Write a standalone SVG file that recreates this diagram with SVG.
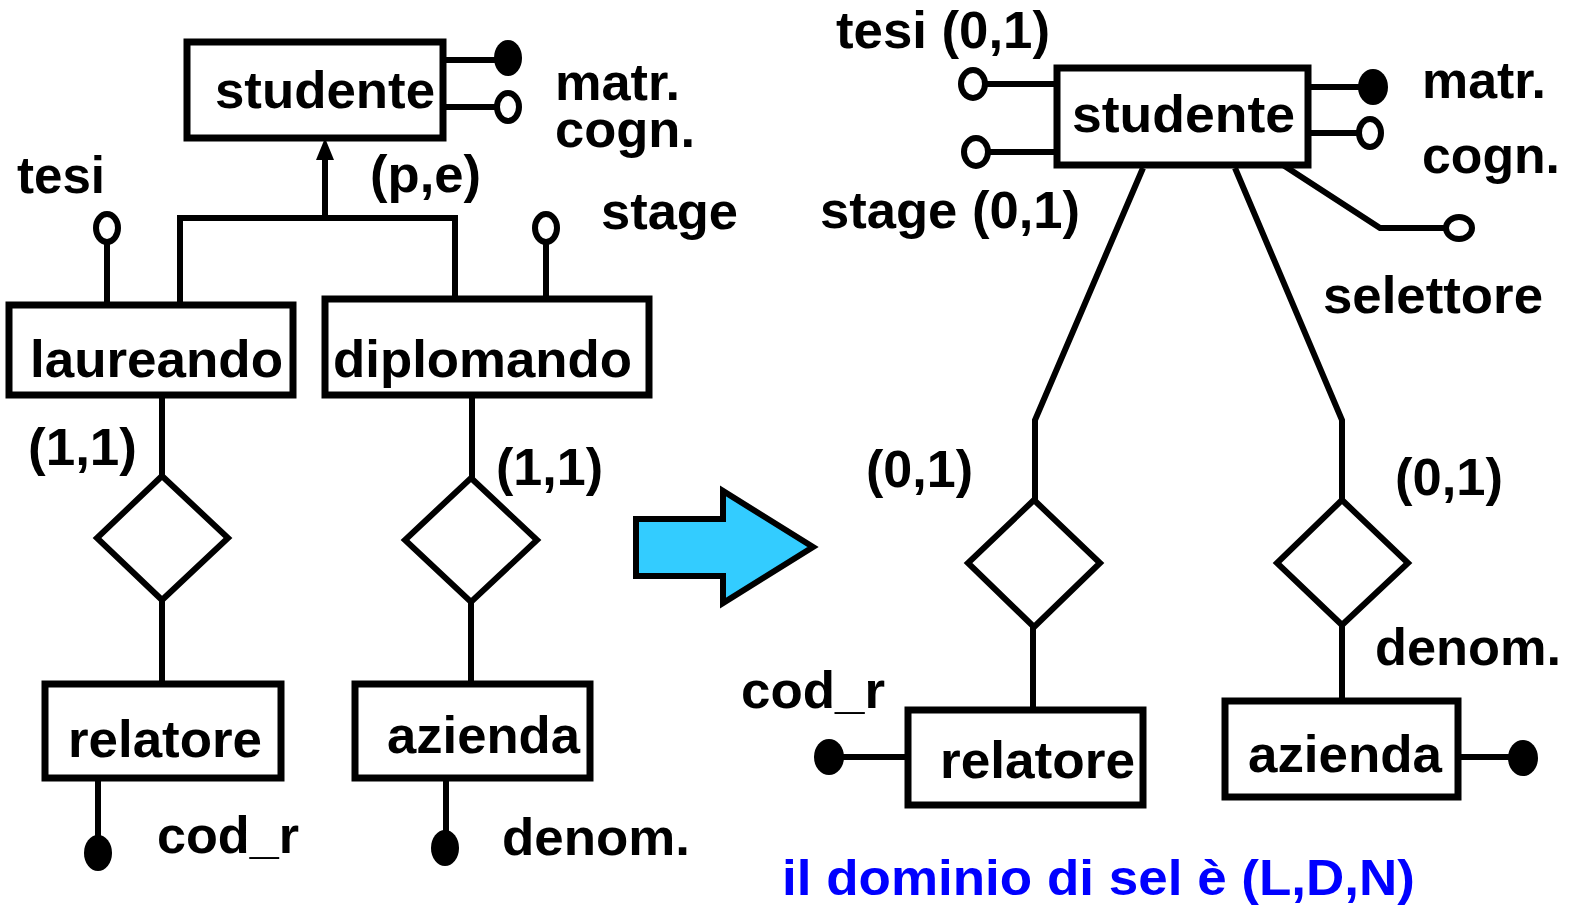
<svg xmlns="http://www.w3.org/2000/svg" width="1571" height="907" viewBox="0 0 1571 907">
  <style>
    .box { fill: #fff; stroke: #000; stroke-width: 7; }
    .rel { fill: #fff; stroke: #000; stroke-width: 6; }
    .ln { fill: none; stroke: #000; stroke-width: 6; }
    .hol { fill: #fff; stroke: #000; stroke-width: 6; }
    .fil { fill: #000; }
    text { font-family: "Liberation Sans", Arial, sans-serif; font-weight: bold; font-size: 52px; fill: #000; }
    .blue { fill: #0000ff; font-size: 50px; }
  </style>
  <defs>
    <marker id="isa" viewBox="0 0 10 10" refX="5" refY="0" markerWidth="3.4" markerHeight="3.4" orient="auto-start-reverse" markerUnits="strokeWidth">
      <path d="M0,10 L5,0 L10,10 Z" fill="#000"/>
    </marker>
  </defs>

  <!-- connectors -->
  <g id="connectors">
    <!-- left schema: generalization -->
    <path class="ln" d="M325,218 V150"/>
    <path d="M316,160 L325,138 L334,160 Z" fill="#000"/>
    <path class="ln" d="M180,302 V218 H455 V298"/>
    <!-- left schema: attribute stems -->
    <path class="ln" d="M443,60 H496"/>
    <path class="ln" d="M443,107 H496"/>
    <path class="ln" d="M107,243 V302"/>
    <path class="ln" d="M546,243 V298"/>
    <path class="ln" d="M98,778 V838"/>
    <path class="ln" d="M446,778 V832"/>
    <!-- left schema: relationship links -->
    <path class="ln" d="M162,395 V476"/>
    <path class="ln" d="M162,600 V683"/>
    <path class="ln" d="M472,395 V478"/>
    <path class="ln" d="M471,602 V683"/>

    <!-- right schema: attribute stems -->
    <path class="ln" d="M987,84 H1057"/>
    <path class="ln" d="M990,152 H1057"/>
    <path class="ln" d="M1308,87 H1360"/>
    <path class="ln" d="M1308,133 H1358"/>
    <path class="ln" d="M1283,165 L1380,228 H1447"/>
    <path class="ln" d="M843,757 H908"/>
    <path class="ln" d="M1458,757 H1510"/>
    <!-- right schema: relationship links -->
    <path class="ln" d="M1143,168 L1035,420 V500"/>
    <path class="ln" d="M1033,627 V710"/>
    <path class="ln" d="M1235,168 L1342,420 V500"/>
    <path class="ln" d="M1342,625 V700"/>
  </g>

  <!-- attribute markers -->
  <g id="attr-markers">
    <ellipse class="fil" cx="508" cy="58" rx="14" ry="18"/>
    <ellipse class="hol" cx="508" cy="107" rx="11" ry="14"/>
    <ellipse class="hol" cx="107" cy="228" rx="11" ry="14"/>
    <ellipse class="hol" cx="546" cy="228" rx="11" ry="14"/>
    <ellipse class="fil" cx="98" cy="853" rx="14" ry="18"/>
    <ellipse class="fil" cx="445" cy="848" rx="14" ry="18"/>

    <ellipse class="hol" cx="973" cy="84" rx="12" ry="14"/>
    <ellipse class="hol" cx="976" cy="152" rx="12" ry="14"/>
    <ellipse class="fil" cx="1373" cy="87" rx="15" ry="18"/>
    <ellipse class="hol" cx="1370" cy="133" rx="11" ry="14"/>
    <ellipse class="hol" cx="1459" cy="228" rx="13" ry="11"/>
    <ellipse class="fil" cx="829" cy="757" rx="15" ry="18"/>
    <ellipse class="fil" cx="1523" cy="758" rx="15" ry="18"/>
  </g>

  <!-- left schema nodes -->
  <g id="l-studente">
    <rect class="box" x="187" y="42" width="256" height="96"/>
    <text x="215" y="108" textLength="220" lengthAdjust="spacingAndGlyphs">studente</text>
  </g>
  <g id="l-laureando">
    <rect class="box" x="9" y="305" width="284" height="90"/>
    <text x="30" y="377" textLength="253" lengthAdjust="spacingAndGlyphs">laureando</text>
  </g>
  <g id="l-diplomando">
    <rect class="box" x="325" y="299" width="324" height="96"/>
    <text x="333" y="377" textLength="299" lengthAdjust="spacingAndGlyphs">diplomando</text>
  </g>
  <g id="l-rel-tesi">
    <polygon class="rel" points="162,476 228,538 162,600 97,538"/>
  </g>
  <g id="l-rel-stage">
    <polygon class="rel" points="471,478 537,540 471,602 405,540"/>
  </g>
  <g id="l-relatore">
    <rect class="box" x="45" y="684" width="236" height="94"/>
    <text x="68" y="757" textLength="194" lengthAdjust="spacingAndGlyphs">relatore</text>
  </g>
  <g id="l-azienda">
    <rect class="box" x="355" y="684" width="235" height="94"/>
    <text x="387" y="753" textLength="193" lengthAdjust="spacingAndGlyphs">azienda</text>
  </g>

  <!-- left schema labels -->
  <g id="l-labels">
    <text x="555" y="100" textLength="125" lengthAdjust="spacingAndGlyphs">matr.</text>
    <text x="555" y="147" textLength="140" lengthAdjust="spacingAndGlyphs">cogn.</text>
    <text x="370" y="192" textLength="111" lengthAdjust="spacingAndGlyphs">(p,e)</text>
    <text x="17" y="193" textLength="88" lengthAdjust="spacingAndGlyphs">tesi</text>
    <text x="601" y="229" textLength="137" lengthAdjust="spacingAndGlyphs">stage</text>
    <text x="28" y="465" textLength="109" lengthAdjust="spacingAndGlyphs">(1,1)</text>
    <text x="496" y="485" textLength="107" lengthAdjust="spacingAndGlyphs">(1,1)</text>
    <text x="157" y="853" textLength="142" lengthAdjust="spacingAndGlyphs">cod_r</text>
    <text x="502" y="855" textLength="188" lengthAdjust="spacingAndGlyphs">denom.</text>
  </g>

  <!-- transformation arrow -->
  <g id="transform-arrow">
    <polygon points="636,519 723,519 723,491 813,547 723,603 723,576 636,576" fill="#33ccff" stroke="#000" stroke-width="6" stroke-linejoin="miter"/>
  </g>

  <!-- right schema nodes -->
  <g id="r-studente">
    <rect class="box" x="1057" y="68" width="251" height="97"/>
    <text x="1072" y="132" textLength="223" lengthAdjust="spacingAndGlyphs">studente</text>
  </g>
  <g id="r-rel-tesi">
    <polygon class="rel" points="1034,500 1100,563 1034,627 968,563"/>
  </g>
  <g id="r-rel-stage">
    <polygon class="rel" points="1342,500 1408,563 1342,625 1277,563"/>
  </g>
  <g id="r-relatore">
    <rect class="box" x="908" y="710" width="235" height="95"/>
    <text x="940" y="778" textLength="195" lengthAdjust="spacingAndGlyphs">relatore</text>
  </g>
  <g id="r-azienda">
    <rect class="box" x="1225" y="701" width="233" height="96"/>
    <text x="1248" y="772" textLength="194" lengthAdjust="spacingAndGlyphs">azienda</text>
  </g>

  <!-- right schema labels -->
  <g id="r-labels">
    <text x="836" y="48" textLength="214" lengthAdjust="spacingAndGlyphs">tesi (0,1)</text>
    <text x="820" y="228" textLength="260" lengthAdjust="spacingAndGlyphs">stage (0,1)</text>
    <text x="1422" y="98" textLength="124" lengthAdjust="spacingAndGlyphs">matr.</text>
    <text x="1422" y="173" textLength="138" lengthAdjust="spacingAndGlyphs">cogn.</text>
    <text x="1323" y="313" textLength="220" lengthAdjust="spacingAndGlyphs">selettore</text>
    <text x="866" y="487" textLength="107" lengthAdjust="spacingAndGlyphs">(0,1)</text>
    <text x="1395" y="495" textLength="108" lengthAdjust="spacingAndGlyphs">(0,1)</text>
    <text x="741" y="708" textLength="144" lengthAdjust="spacingAndGlyphs">cod_r</text>
    <text x="1375" y="665" textLength="186" lengthAdjust="spacingAndGlyphs">denom.</text>
    <text class="blue" x="782" y="895" textLength="633" lengthAdjust="spacingAndGlyphs">il dominio di sel è (L,D,N)</text>
  </g>
</svg>
